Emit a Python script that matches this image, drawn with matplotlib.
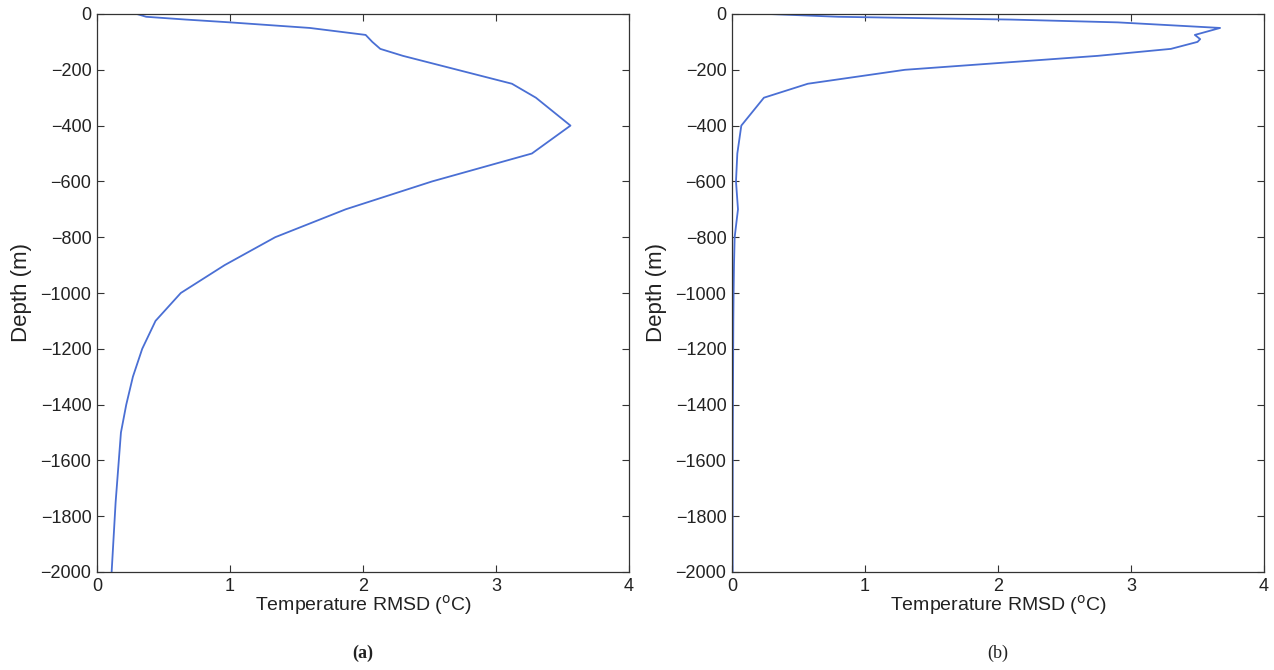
import numpy as np
import matplotlib
matplotlib.use("Agg")
import matplotlib.pyplot as plt

plt.rcParams['font.family'] = ['Liberation Sans', 'DejaVu Sans']

# --- data (depth in m, RMSD in deg C) ---
depth_a = [0, 10, 20, 30, 50, 75, 100, 125, 150, 200, 250, 300, 400, 500,
           600, 700, 800, 900, 1000, 1100, 1200, 1300, 1400, 1500, 1750, 2000]
rmsd_a = [0.30, 0.37, 0.67, 1.00, 1.60, 2.02, 2.07, 2.13, 2.30, 2.71, 3.12, 3.30, 3.56, 3.27,
          2.52, 1.87, 1.34, 0.96, 0.63, 0.44, 0.34, 0.27, 0.22, 0.18, 0.14, 0.11]

depth_b = [0, 10, 20, 30, 50, 75, 90, 100, 125, 150, 200, 250, 300, 400, 500,
           600, 700, 800, 900, 1000, 1100, 1200, 1300, 1400, 1500, 1750, 2000]
rmsd_b = [0.28, 0.80, 2.10, 2.90, 3.67, 3.48, 3.52, 3.50, 3.30, 2.75, 1.30, 0.57, 0.24, 0.07, 0.04,
          0.03, 0.045, 0.02, 0.015, 0.012, 0.010, 0.009, 0.008, 0.007, 0.006, 0.005, 0.005]

panels = [(depth_a, rmsd_a, '(a)', 'bold'), (depth_b, rmsd_b, '(b)', 'normal')]

x_ticks = [0, 1, 2, 3, 4]
y_ticks = np.arange(-2000, 1, 200)

line_color = '#4a6fd4'
axis_color = '#333333'

fig = plt.figure(figsize=(12.74, 6.70), dpi=100)
lefts = [97 / 1274, 732 / 1274]
w = 532 / 1274
bottom = 1 - 572 / 670
h = 558 / 670

for left, (dep, val, cap, weight) in zip(lefts, panels):
    ax = fig.add_axes([left, bottom, w, h])
    ax.plot(val, -np.array(dep), color=line_color, lw=1.3)
    ax.set_xlim(0, 4)
    ax.set_ylim(-2000, 0)
    ax.set_xticks(x_ticks)
    ax.set_yticks(y_ticks)
    ax.tick_params(direction='in', top=True, right=True, length=5, width=0.8,
                   labelsize=13, colors=axis_color, labelcolor='#222222', pad=4)
    for s in ax.spines.values():
        s.set_color(axis_color)
        s.set_linewidth(0.9)
    ax.set_xlabel('Temperature RMSD ($^{\\mathrm{o}}$C)', fontsize=14, color='#222222', labelpad=-1)
    ax.set_ylabel('Depth (m)', fontsize=16, color='#222222', labelpad=6)
    fig.text(left + w / 2, 0.025, cap, ha='center', va='center', fontsize=13,
             family=['Liberation Serif'], fontweight=weight, color='#222222')

fig.savefig('out.png', dpi=100)
